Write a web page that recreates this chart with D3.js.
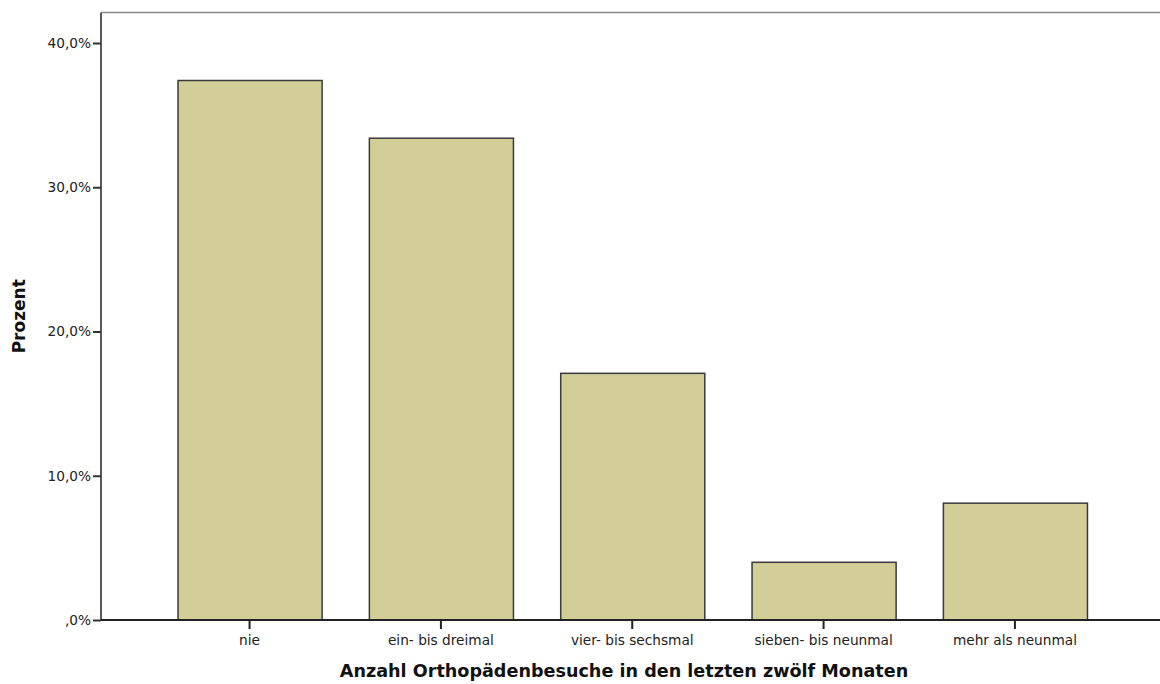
<!DOCTYPE html>
<html><head><meta charset="utf-8">
<script src="https://cdn.jsdelivr.net/npm/d3@7"></script>
<style>body{margin:0;background:#fff}svg{display:block}text{font-family:"DejaVu Sans",sans-serif}</style>
</head><body>
<script>
const categories = ["nie","ein- bis dreimal","vier- bis sechsmal","sieben- bis neunmal","mehr als neunmal"];
const values = [37.4, 33.4, 17.1, 4.0, 8.1];
const yTicks = [0, 10, 20, 30, 40];
const yTickLabels = [",0%", "10,0%", "20,0%", "30,0%", "40,0%"];
const xTitle = "Anzahl Orthopädenbesuche in den letzten zwölf Monaten";
const yTitle = "Prozent";

(function () {
const W = 1160, H = 684;
const pLeft = 101, pTop = 12.5, pBottom = 620, pRight = 1160;
const FONT = "DejaVu Sans, sans-serif";
const svg = d3.select("body").append("svg").attr("width", W).attr("height", H);

const y = d3.scaleLinear().domain([0, 40]).range([pBottom, pBottom - 577]);
const x = d3.scaleBand().domain(categories).range([pLeft, 1163.5]).paddingInner(0.247).paddingOuter(0.4);

// top border
svg.append("line").attr("x1", pLeft).attr("x2", pRight).attr("y1", pTop).attr("y2", pTop)
  .attr("stroke", "#8a8a8a").attr("stroke-width", 1.5);

// bars
svg.append("g").selectAll("rect").data(values).join("rect")
  .attr("x", (d, i) => x(categories[i]) + 0.5)
  .attr("y", d => y(d))
  .attr("width", x.bandwidth())
  .attr("height", d => pBottom - y(d))
  .attr("fill", "#d3ce97").attr("stroke", "#3a3a3a").attr("stroke-width", 1.5);

// y axis
const yAxis = svg.append("g").attr("transform", `translate(${pLeft},0)`)
  .call(d3.axisLeft(y).tickValues(yTicks).tickFormat((d, i) => yTickLabels[i]).tickSize(8).tickPadding(2));
yAxis.select(".domain").attr("d", `M0,${pTop}V${pBottom}`).attr("stroke", "#5a5a5a").attr("stroke-width", 2);
yAxis.selectAll(".tick line").attr("stroke", "#333").attr("stroke-width", 2);
yAxis.selectAll(".tick text").attr("font-size", 13.7).attr("fill", "#222").attr("font-family", FONT);

// x axis
const xAxis = svg.append("g").attr("transform", `translate(0,${pBottom})`)
  .call(d3.axisBottom(x).tickSize(9).tickPadding(6));
xAxis.select(".domain").attr("d", `M${pLeft},0H${pRight}`).attr("stroke", "#222").attr("stroke-width", 2);
xAxis.selectAll(".tick line").attr("stroke", "#222").attr("stroke-width", 2);
xAxis.selectAll(".tick text").attr("font-size", 13.7).attr("fill", "#222").attr("font-family", FONT);

// titles
svg.append("text").attr("x", 624).attr("y", 677).attr("text-anchor", "middle")
  .attr("font-size", 17.6).attr("font-weight", "bold").attr("fill", "#111").attr("font-family", FONT).text(xTitle);
svg.append("text").attr("transform", `translate(25,${(pTop + pBottom) / 2}) rotate(-90)`).attr("text-anchor", "middle")
  .attr("font-size", 17).attr("font-weight", "bold").attr("fill", "#111").attr("font-family", FONT).text(yTitle);
})();
</script>
</body></html>
